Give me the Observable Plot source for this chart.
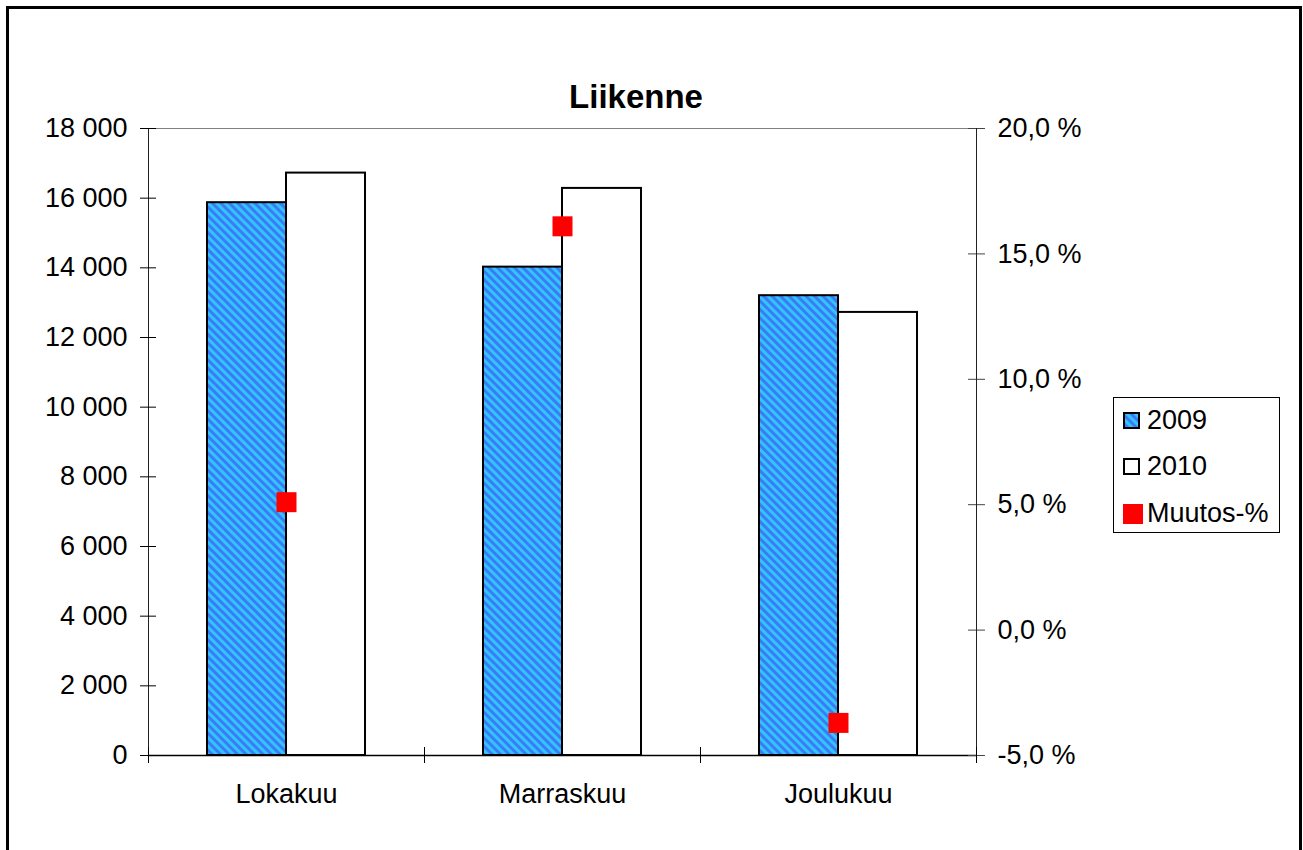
<!DOCTYPE html>
<html><head><meta charset="utf-8">
<script src="https://cdn.jsdelivr.net/npm/d3@7"></script>
<script src="https://cdn.jsdelivr.net/npm/@observablehq/plot@0.6"></script>
<style>
body{margin:0;background:#fff;overflow:hidden;font-family:"Liberation Sans",Arial,sans-serif;color:#000;}
#wrap{position:relative;width:1303px;height:850px;overflow:hidden;}
#border{position:absolute;left:6px;top:6px;height:900px;border:3px solid #000;box-sizing:border-box;width:1296px;}
#title{position:absolute;left:0;width:1272px;top:77px;text-align:center;font-weight:bold;font-size:33px;line-height:40px;}
#chart{position:absolute;left:0;top:0;}
#legend{position:absolute;left:1113px;top:397px;width:167px;height:136px;border:1px solid #000;box-sizing:border-box;background:#fff;font-size:27px;}
.row{position:absolute;left:0;height:30px;line-height:30px;}
.row span{position:absolute;left:33px;white-space:nowrap;}
.sw{position:absolute;box-sizing:border-box;}
</style></head>
<body>
<svg width="0" height="0" style="position:absolute">
  <defs>
    <pattern id="hatch" patternUnits="userSpaceOnUse" width="6" height="6" patternTransform="rotate(-45)">
      <rect width="6" height="6" fill="#3A7CF6"/>
      <rect width="3" height="6" fill="#33C4FF"/>
    </pattern>
  </defs>
</svg>
<div id="wrap">
  <div id="border"></div>
  <div id="chart"></div>
  <div id="title">Liikenne</div>
  <div id="legend"></div>
</div>
<script>
const months = ["Lokakuu", "Marraskuu", "Joulukuu"];
const seriesNames = ["2009", "2010", "Muutos-%"];
const values2009 = [15870, 14020, 13200];
const values2010 = [16720, 16280, 12720];
const muutos = [5.1, 16.1, -3.7];
const leftTicks = [0, 2000, 4000, 6000, 8000, 10000, 12000, 14000, 16000, 18000];
const rightTicks = [-5, 0, 5, 10, 15, 20];

const pctToLeft = d3.scaleLinear().domain([-5, 20]).range([0, 18000]);
const numFmt = d3.formatLocale({decimal: ",", thousands: " ", grouping: [3], currency: ["", ""]}).format(",d");
const pctFmt = v => v.toFixed(1).replace(".", ",") + " %";

const rows2009 = months.map((m, i) => ({month: m, value: values2009[i]}));
const rows2010 = months.map((m, i) => ({month: m, value: values2010[i]}));
const rowsPct = months.map((m, i) => ({month: m, pct: muutos[i]}));

const chart = Plot.plot({
  width: 1303, height: 850,
  marginLeft: 148, marginRight: 327, marginTop: 128, marginBottom: 95,
  x: {domain: months, padding: 0, axis: null, label: null},
  y: {domain: [0, 18000], axis: null, label: null},
  style: {fontFamily: "'Liberation Sans', Arial, sans-serif", fontSize: "27px", color: "#000", background: "transparent", overflow: "visible"},
  marks: [
    Plot.barY(rows2009, {x: "month", y: "value", fill: "url(#hatch)", stroke: "#000", strokeWidth: 2, insetLeft: 98.5, insetRight: 98.5, dx: -39.5}),
    Plot.barY(rows2010, {x: "month", y: "value", fill: "#fff", stroke: "#000", strokeWidth: 2, insetLeft: 98.5, insetRight: 98.5, dx: 39.5}),
    Plot.frame({stroke: "#222"}),
    Plot.ruleY([18000], {stroke: "#808080"}),
    Plot.ruleY([0], {stroke: "#000", strokeWidth: 1.5}),
    Plot.axisY(leftTicks, {anchor: "left", label: null, tickSize: 8, tickPadding: 13, tickFormat: numFmt, fontSize: 27}),
    Plot.ruleY(leftTicks, {y: d => d, insetRight: 820, stroke: "#000"}),
    Plot.axisY(rightTicks.map(p => pctToLeft(p)), {anchor: "right", label: null, tickSize: 8, tickPadding: 13, tickFormat: v => pctFmt(pctToLeft.invert(v)), fontSize: 27, stroke: "#444"}),
    Plot.ruleY(rightTicks.map(p => pctToLeft(p)), {y: d => d, insetLeft: 820, stroke: "#444"}),
    Plot.axisX({label: null, tickSize: 0, tickPadding: 28, fontSize: 27}),
    Plot.ruleX(months, {x: d => d, dx: -138, insetTop: 619, insetBottom: -8, stroke: "#000"}),
    Plot.ruleX([months[months.length - 1]], {x: d => d, dx: 138, insetTop: 619, insetBottom: -8, stroke: "#000"}),
    Plot.dot(rowsPct, {x: "month", y: d => pctToLeft(d.pct), symbol: "square", r: 11.28, fill: "#ff0000", stroke: "none"})
  ]
});
document.getElementById("chart").appendChild(chart);

const legend = document.getElementById("legend");
const rowTops = [7, 53, 100];
seriesNames.forEach((name, i) => {
  const row = document.createElement("div");
  row.className = "row";
  row.style.top = rowTops[i] + "px";
  let sw;
  if (i === 0) {
    sw = `<svg class="sw" style="left:9px;top:7px" width="17" height="17"><rect x="1" y="1" width="15" height="15" fill="url(#hatch)" stroke="#000" stroke-width="2"/></svg>`;
  } else if (i === 1) {
    sw = `<svg class="sw" style="left:9px;top:7px" width="17" height="17"><rect x="1" y="1" width="15" height="15" fill="#fff" stroke="#000" stroke-width="2"/></svg>`;
  } else {
    sw = `<svg class="sw" style="left:9px;top:6px" width="21" height="21"><rect x="0" y="0" width="20" height="20" fill="#ff0000"/></svg>`;
  }
  row.innerHTML = sw + `<span>${name}</span>`;
  legend.appendChild(row);
});
</script>
</body></html>
